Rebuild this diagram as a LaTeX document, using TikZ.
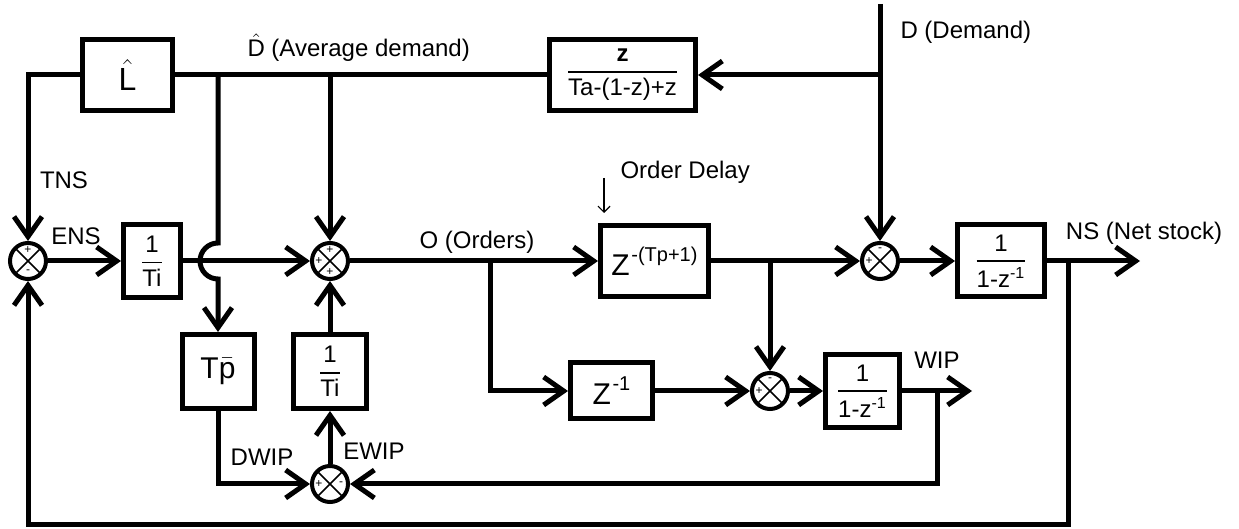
\documentclass[tikz,border=0pt]{standalone}
\usepackage{amsmath}
\usepackage{fontspec}
\setmainfont{Liberation Sans}
\usetikzlibrary{arrows.meta}

\newcommand{\blockfrac}[2]{$\genfrac{}{}{0.9pt}{0}{\mbox{#1}}{\mbox{#2}}$}
\newcommand{\bigz}[1]{{\fontsize{15}{15}\selectfont Z}\kern0.8pt\raisebox{7pt}{\fontsize{10}{10}\selectfont #1}}

\begin{document}
\begin{tikzpicture}[x=0.5pt, y=-0.5pt, line width=2.5pt,
  font=\fontsize{12}{14}\selectfont,
  block/.style={draw, line width=2.5pt, inner sep=0pt},
  summer/.style={circle, draw, line width=2pt, minimum size=18pt, inner sep=0pt,
    path picture={\draw[line width=0.8pt]
      (path picture bounding box.north west) -- (path picture bounding box.south east)
      (path picture bounding box.north east) -- (path picture bounding box.south west);}},
  sumsign/.style={font=\fontsize{6}{6}\selectfont, inner sep=0pt},
  sig/.style={-{Straight Barb[length=10pt,width=14pt]}}]

\useasboundingbox (0,0) rectangle (1239,529);

% === Blocks ===
\node[block, minimum width=45pt, minimum height=35.5pt] (Lhat) at (127.5,75)
  {\fontsize{16}{16}\selectfont $\hat{\mbox{L}}$};
\node[block, minimum width=73pt, minimum height=35.5pt] (zTa) at (622.5,75)
  {\blockfrac{\textbf{z}}{Ta-(1-z)+z}};
\node[block, minimum width=28.5pt, minimum height=36.5pt] (Ti1) at (152,261)
  {\blockfrac{1}{Ti}};
\node[block, minimum width=36pt, minimum height=37pt] (Tp) at (218,371.5)
  {\fontsize{15}{15}\selectfont T$\bar{\mbox{p}}$};
\node[block, minimum width=36.5pt, minimum height=37pt] (Ti2) at (330,371.5)
  {\blockfrac{1}{Ti}};
\node[block, minimum width=54pt, minimum height=35.5pt] (ZTp) at (654.5,261)
  {\bigz{-(Tp+1)}};
\node[block, minimum width=41pt, minimum height=28pt] (z1) at (611.5,391)
  {\bigz{-1}};
\node[block, minimum width=37pt, minimum height=36.5pt] (WIPb) at (862.5,391)
  {\blockfrac{1}{1-z\textsuperscript{-1}}};
\node[block, minimum width=43.5pt, minimum height=36pt] (NSb) at (1001,261)
  {\blockfrac{1}{1-z\textsuperscript{-1}}};

% === Summing junctions ===
\node[summer] (S1) at (28,261) {};
\node[summer] (S2) at (330,261) {};
\node[summer] (S3) at (330,484) {};
\node[summer] (S4) at (880,261) {};
\node[summer] (S5) at (770,391) {};
\foreach \s/\a/\t in {S1/90/+, S1/270/-, S2/90/+, S2/180/+, S2/270/+,
  S3/180/+, S3/0/-, S4/90/-, S4/180/+, S5/90/-, S5/180/+}{
  \node[sumsign, shift={(\a:5.5pt)}] at (\s) {\t};
}

% === Branch points ===
\coordinate (Dtop) at (880,4);
\coordinate (jD) at (880,75);
\coordinate (jA) at (218,75);
\coordinate (hop) at (218,243);
\coordinate (jB) at (330,75);
\coordinate (jO) at (490,261);
\coordinate (jZ) at (770,261);
\coordinate (jW) at (937,391);
\coordinate (WIPend) at (972,391);
\coordinate (jN) at (1068,261);
\coordinate (jNb) at (1068,525);
\coordinate (NSend) at (1140,261);
\coordinate (od1) at (604,178);
\coordinate (od2) at (604,213);

% === Signals ===
\draw[sig] (Dtop) -- (S4);
\draw[sig] (jD) -- (zTa);
\draw (zTa) -- (Lhat);
\draw[sig] (Lhat.west) -| (S1);
\draw[sig] (jA) -- (hop) arc[start angle=90, end angle=270, radius=9pt] -- (Tp);
\draw[sig] (jB) -- (S2);
\draw[sig] (S1) -- (Ti1);
\draw[sig] (Ti1) -- (S2);
\draw[sig] (S2) -- (ZTp);
\draw[sig] (jO) |- (z1);
\draw[sig] (z1) -- (S5);
\draw[sig] (ZTp) -- (S4);
\draw[sig] (jZ) -- (S5);
\draw[sig] (S5) -- (WIPb);
\draw[sig] (WIPb) -- (WIPend);
\draw[sig] (jW) |- (S3);
\draw[sig] (Tp) |- (S3);
\draw[sig] (S3) -- (Ti2);
\draw[sig] (Ti2) -- (S2);
\draw[sig] (S4) -- (NSb);
\draw[sig] (NSb) -- (NSend);
\draw[sig] (jN) -- (jNb) -| (S1);
\draw[line width=0.6pt, -{Straight Barb[length=3pt,width=6pt]}] (od1) -- (od2);

% === Labels ===
\node[anchor=base west, inner sep=0pt] (lDhat) at (245,57) {$\hat{\mbox{D}}$ (Average demand)};
\node[anchor=west, inner sep=0pt] (lD) at (898,32) {D (Demand)};
\node (lTNS) at (64,180) {TNS};
\node (lENS) at (76,236) {ENS};
\node (lO) at (477,242) {O (Orders)};
\node[anchor=west, inner sep=0pt] (lOD) at (618,172) {Order Delay};
\node (lNS) at (1144,233) {NS (Net stock)};
\node (lWIP) at (937,360) {WIP};
\node (lDWIP) at (262,457) {DWIP};
\node (lEWIP) at (374,451) {EWIP};

\end{tikzpicture}
\end{document}
